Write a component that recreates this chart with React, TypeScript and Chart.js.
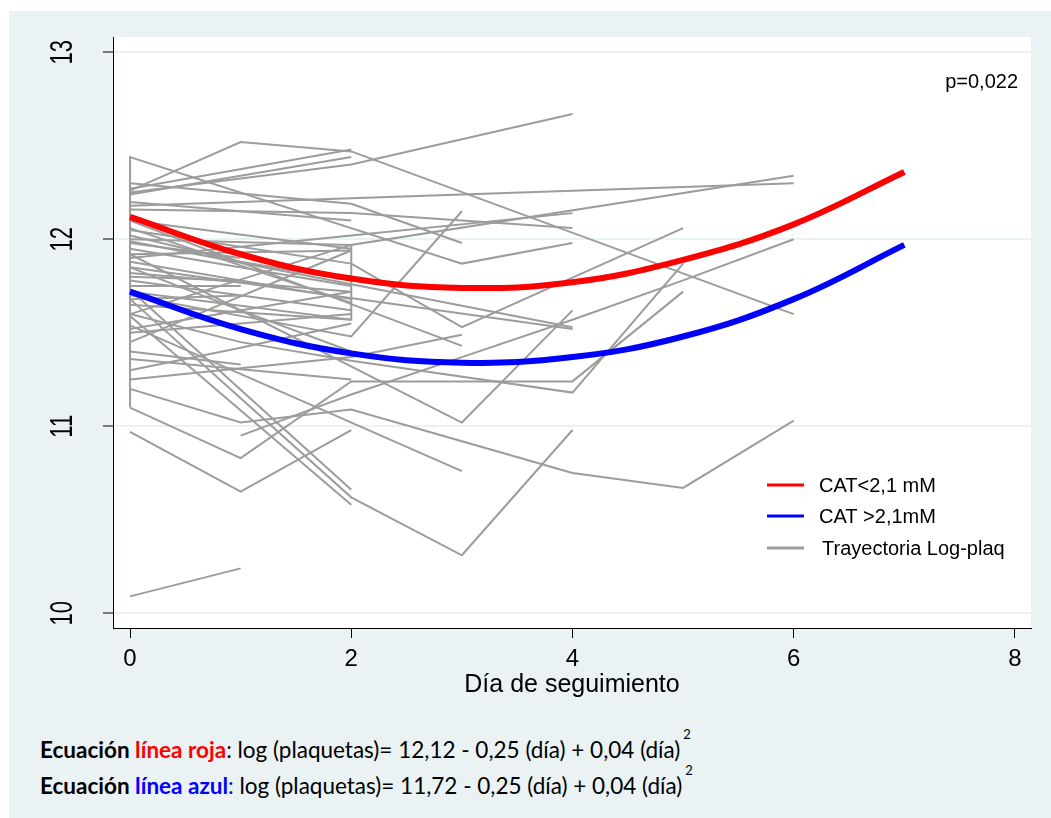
import React, { useEffect, useRef } from 'react';
import { Chart, registerables } from 'chart.js';

Chart.register(...registerables);

// ---- data ----
const xTicks = [0, 2, 4, 6, 8];
const yTicks = [10, 11, 12, 13];
const xTitle = 'Día de seguimiento';
const pText = 'p=0,022';
const legendLabels = ['CAT<2,1 mM', 'CAT >2,1mM', 'Trayectoria Log-plaq'];

const curveDays = [0, 1, 2, 3, 4, 5, 6, 7];
const redValues = [12.12, 11.92, 11.79, 11.74, 11.77, 11.89, 12.08, 12.36];
const blueValues = [11.72, 11.52, 11.39, 11.34, 11.37, 11.48, 11.68, 11.97];

// each trajectory: [day, log-platelets] pairs
const trajectories: number[][][] = [
  [[0, 10.09], [1, 10.24]],
  [[0, 10.97], [1, 10.65], [2, 10.98]],
  [[0, 11.10], [1, 10.83], [2, 11.24], [3, 11.24], [4, 11.24], [5, 11.72]],
  [[0, 11.20], [1, 11.02], [2, 11.09], [3, 10.92], [4, 10.75], [5, 10.67], [6, 11.03]],
  [[1, 10.95], [2, 11.17], [3, 11.37], [4, 11.57], [5, 11.78], [6, 12.00]],
  [[0, 11.68], [2, 10.62], [3, 10.31], [4, 10.98]],
  [[0, 11.59], [2, 10.58]],
  [[0, 11.73], [2, 10.66]],
  [[0, 11.54], [3, 10.76]],
  [[0, 11.92], [3, 11.02], [4, 11.62]],
  [[0, 11.60], [1, 11.45], [2, 11.35], [4, 11.18], [5, 11.87]],
  [[0, 11.40], [1, 11.33]],
  [[0, 12.26], [1, 12.52], [2, 12.47], [6, 11.60]],
  [[0, 12.27], [2, 12.48]],
  [[0, 12.24], [2, 12.44]],
  [[0, 11.10], [0, 12.44], [3, 11.87], [4, 11.98]],
  [[0, 12.25], [2, 12.40], [4, 12.67]],
  [[0, 12.18], [6, 12.30]],
  [[0, 11.72], [2, 11.57], [2, 11.97], [6, 12.34]],
  [[0, 12.00], [2, 11.97]],
  [[0, 12.16], [2, 12.14], [4, 12.06]],
  [[0, 11.90], [2, 12.02], [4, 12.14]],
  [[0, 12.30], [2, 12.19], [3, 11.98]],
  [[0, 11.70], [2, 11.48], [3, 12.15]],
  [[0, 12.05], [2, 11.87], [3, 11.53], [5, 12.06]],
  [[0, 11.25], [2, 11.37], [3, 11.49]],
  [[0, 12.10], [3, 11.43]],
  [[0, 11.99], [4, 11.53]],
  [[0, 11.85], [4, 11.52]],
  [[0, 11.36], [2, 11.25]],
  [[0, 11.95], [2, 11.75]],
  [[0, 11.88], [2, 11.68]],
  [[0, 11.82], [2, 11.72]],
  [[0, 11.78], [2, 11.62]],
  [[0, 11.75], [1, 11.75]],
  [[0, 11.65], [2, 11.57]],
  [[0, 12.06], [2, 11.66]],
  [[0, 11.60], [2, 11.97]],
  [[0, 11.45], [2, 11.94]],
  [[0, 11.52], [2, 11.72]],
  [[0, 11.92], [2, 11.94]],
  [[0, 12.10], [2, 11.95]],
  [[0, 11.80], [1, 11.78]],
  [[0, 11.98], [1, 11.90]],
  [[0, 11.85], [1, 11.62], [2, 11.40]],
  [[0, 11.50], [1, 11.55], [2, 11.60]],
  [[0, 12.02], [1, 11.88], [2, 11.78]],
  [[0, 11.30], [1, 11.42], [2, 11.55]],
  [[0, 11.68], [1, 11.70]],
  [[0, 12.20], [2, 12.10]],
];

const X_MIN = -0.154;
const X_MAX = 8.145;
const Y_MIN = 9.921;
const Y_MAX = 13.082;

const RED = '#ff0000';
const BLUE = '#0000ff';
const GRAY = '#9c9c9c';
const BG = '#eaf2f3';
const FONT = '"Liberation Sans", Arial, Helvetica, sans-serif';

const textPlugin = {
  id: 'stataTexts',
  beforeDraw(chart: any) {
    const { ctx, chartArea: a } = chart;
    ctx.save();
    ctx.fillStyle = '#ffffff';
    ctx.fillRect(a.left, a.top, a.right - a.left, a.bottom - a.top);
    ctx.restore();
  },
  afterDraw(chart: any) {
    const { ctx, chartArea: a, scales } = chart;
    ctx.save();
    ctx.fillStyle = '#000';
    ctx.textAlign = 'center';
    ctx.textBaseline = 'middle';
    // rotated y labels
    ctx.font = `22px ${FONT}`;
    yTicks.forEach((v) => {
      const y = scales.y.getPixelForValue(v);
      ctx.save();
      ctx.translate(53, y);
      ctx.scale(1.4, 1);
      ctx.rotate(-Math.PI / 2);
      ctx.fillText(String(v), 0, 1);
      ctx.restore();
    });
    // x labels
    ctx.font = `24px ${FONT}`;
    xTicks.forEach((v) => {
      ctx.fillText(String(v), scales.x.getPixelForValue(v), 648);
    });
    // x title
    ctx.font = `25px ${FONT}`;
    ctx.fillText(xTitle, (a.left + a.right) / 2, 674);
    // p value
    ctx.font = `20px ${FONT}`;
    ctx.textAlign = 'right';
    ctx.fillText(pText, a.right - 13, a.top + 45);
    // legend
    const items = [
      { label: legendLabels[0], color: RED, y: 474, tx: 810 },
      { label: legendLabels[1], color: BLUE, y: 505, tx: 810 },
      { label: legendLabels[2], color: GRAY, y: 537, tx: 813 },
    ];
    ctx.textAlign = 'left';
    ctx.font = `20px ${FONT}`;
    items.forEach((it) => {
      ctx.strokeStyle = it.color;
      ctx.lineWidth = 3;
      ctx.beginPath();
      ctx.moveTo(758, it.y);
      ctx.lineTo(795, it.y);
      ctx.stroke();
      ctx.fillStyle = '#000';
      ctx.fillText(it.label, it.tx, it.y + 1);
    });
    ctx.restore();
  },
};

export default function App() {
  const ref = useRef<HTMLCanvasElement | null>(null);

  useEffect(() => {
    if (!ref.current) return;
    const datasets: any[] = [
      {
        label: legendLabels[0],
        data: curveDays.map((d, i) => ({ x: d, y: redValues[i] })),
        borderColor: RED,
        borderWidth: 6,
        pointRadius: 0,
        tension: 0.4,
        fill: false,
      },
      {
        label: legendLabels[1],
        data: curveDays.map((d, i) => ({ x: d, y: blueValues[i] })),
        borderColor: BLUE,
        borderWidth: 6,
        pointRadius: 0,
        tension: 0.4,
        fill: false,
      },
      ...trajectories.map((t) => ({
        label: legendLabels[2],
        data: t.map(([x, y]) => ({ x, y })),
        borderColor: GRAY,
        borderWidth: 2,
        pointRadius: 0,
        tension: 0,
        fill: false,
      })),
    ];

    const chart = new Chart(ref.current, {
      type: 'line',
      data: { datasets },
      options: {
        animation: false,
        responsive: false,
        events: [],
        layout: { padding: { left: 0, top: 26, right: 20, bottom: 0 } },
        plugins: { legend: { display: false }, tooltip: { enabled: false } },
        scales: {
          x: {
            type: 'linear',
            min: X_MIN,
            max: X_MAX,
            afterBuildTicks: (s: any) => {
              s.ticks = xTicks.map((v) => ({ value: v }));
            },
            afterFit: (s: any) => {
              s.height = 83;
            },
            grid: {
              drawOnChartArea: false,
              drawTicks: true,
              tickLength: 10,
              tickColor: '#000',
              tickWidth: 1,
            },
            border: { display: true, color: '#000', width: 1 },
            ticks: { display: false },
          },
          y: {
            type: 'linear',
            min: Y_MIN,
            max: Y_MAX,
            afterBuildTicks: (s: any) => {
              s.ticks = yTicks.map((v) => ({ value: v }));
            },
            afterFit: (s: any) => {
              s.width = 104;
            },
            grid: {
              color: BG,
              lineWidth: 2,
              drawTicks: true,
              tickLength: 10,
              tickColor: '#000',
              tickWidth: 1,
            },
            border: { display: true, color: '#000', width: 1 },
            ticks: { display: false },
          },
        },
      } as any,
      plugins: [textPlugin],
    });
    return () => chart.destroy();
  }, []);

  const eqStyle: React.CSSProperties = {
    position: 'absolute',
    left: 31,
    fontFamily: 'Lato, "Open Sans", sans-serif',
    fontSize: 22.5,
    color: '#000',
    whiteSpace: 'nowrap',
    lineHeight: '26px',
  };
  const supStyle: React.CSSProperties = {
    fontSize: 13,
    position: 'relative',
    top: -19,
    left: 3,
    verticalAlign: 'baseline',
  };

  return (
    <div
      style={{
        position: 'absolute',
        left: 9,
        top: 11,
        width: 1042,
        height: 807,
        background: BG,
        overflow: 'hidden',
      }}
    >
      <canvas
        ref={ref}
        width={1042}
        height={700}
        style={{ position: 'absolute', left: 0, top: 0, display: 'block' }}
      />
      <div style={{ ...eqStyle, top: 726 }}>
        <b>Ecuación </b>
        <b style={{ color: RED }}>línea roja</b>: log (plaquetas)= 12,12 - 0,25 (día) + 0,04 (día)
        <span style={supStyle}>2</span>
      </div>
      <div style={{ ...eqStyle, top: 762 }}>
        <b>Ecuación </b>
        <b style={{ color: BLUE }}>línea azul</b>
        <span style={{ color: BLUE }}>:</span> log (plaquetas)= 11,72 - 0,25 (día) + 0,04 (día)
        <span style={supStyle}>2</span>
      </div>
    </div>
  );
}
